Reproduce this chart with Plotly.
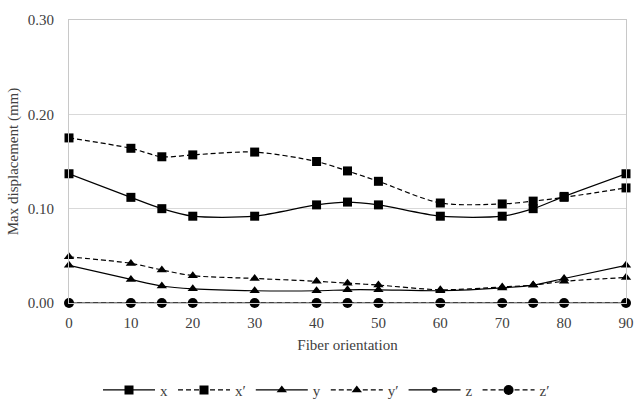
import plotly.graph_objects as go

angles = [0, 10, 15, 20, 30, 40, 45, 50, 60, 70, 75, 80, 90]
x_vals = [0.137, 0.112, 0.100, 0.092, 0.092, 0.104, 0.107, 0.104, 0.092, 0.092, 0.100, 0.113, 0.137]
xp_vals = [0.175, 0.164, 0.155, 0.157, 0.160, 0.150, 0.140, 0.129, 0.106, 0.105, 0.108, 0.112, 0.122]
y_vals = [0.040, 0.025, 0.018, 0.015, 0.013, 0.013, 0.014, 0.014, 0.013, 0.016, 0.019, 0.026, 0.040]
yp_vals = [0.049, 0.042, 0.035, 0.029, 0.026, 0.023, 0.021, 0.019, 0.014, 0.017, 0.019, 0.023, 0.027]
z_vals = [0.0] * 13
zp_vals = [0.0] * 13

series = [
    ("x", x_vals, "solid", "square", 9),
    ("x′", xp_vals, "5px,3px", "square", 9),
    ("y", y_vals, "solid", "triangle-up", 9),
    ("y′", yp_vals, "5px,3px", "triangle-up", 9),
    ("z", z_vals, "solid", "circle", 6),
    ("z′", zp_vals, "5px,3px", "circle", 10),
]

fig = go.Figure()
for name, vals, dash, sym, sz in series:
    fig.add_trace(go.Scatter(
        x=angles, y=vals, name=name, mode="lines+markers", cliponaxis=False,
        line=dict(color="black", width=1.2, dash=dash, shape="spline", smoothing=0.8),
        marker=dict(symbol=sym, size=sz, color="black"),
    ))

font = "Liberation Serif"
tcol = "#404040"
fig.update_layout(
    width=634, height=399,
    paper_bgcolor="white", plot_bgcolor="white",
    margin=dict(l=69, r=8, t=20, b=96),
    font=dict(family=font, size=15, color=tcol),
    legend=dict(orientation="h", xref="container", yref="container",
                x=0.515, xanchor="center", y=0.022, yanchor="middle",
                font=dict(family=font, size=15, color=tcol), itemwidth=52,
                tracegroupgap=0),
    showlegend=True,
)
fig.update_xaxes(
    range=[0, 90], tickvals=[0, 10, 20, 30, 40, 50, 60, 70, 80, 90],
    showgrid=False, zeroline=False, showline=True, linecolor="#c8c8c8", mirror=True,
    title=dict(text="Fiber orientation", standoff=9, font=dict(family=font, size=15, color=tcol)),
    ticks="outside", ticklen=6, tickcolor="rgba(0,0,0,0)",
    tickfont=dict(family=font, size=15, color=tcol),
    ticklabeloverflow="allow", automargin=False,
)
fig.update_yaxes(
    range=[0, 0.30], tickvals=[0, 0.1, 0.2, 0.3], tickformat=".2f",
    showgrid=True, gridcolor="#d9d9d9", zeroline=False,
    showline=True, linecolor="#c8c8c8", mirror=True,
    title=dict(text="Max displacement (mm)", standoff=5, font=dict(family=font, size=15, color=tcol)),
    ticks="outside", ticklen=11, tickcolor="rgba(0,0,0,0)",
    tickfont=dict(family=font, size=15, color=tcol), automargin=False,
)
fig.write_html("out.html", config={"displayModeBar": False},
               post_script="document.body.style.margin='0';document.body.style.overflow='hidden';")
